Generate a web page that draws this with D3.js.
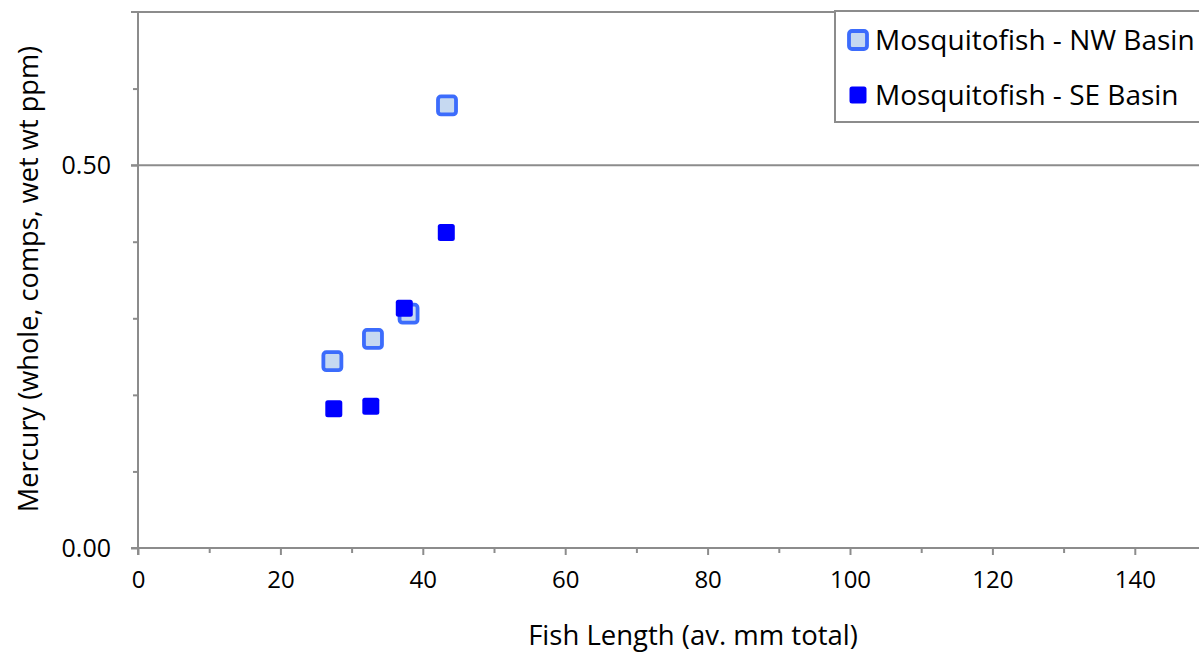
<!DOCTYPE html>
<html>
<head>
<meta charset="utf-8">
<script src="https://cdn.jsdelivr.net/npm/d3@7"></script>
<style>
  html, body { margin: 0; padding: 0; background: #fff; }
  svg { display: block; font-family: "Open Sans", "Noto Sans", sans-serif; }
</style>
</head>
<body>
<div id="chart"></div>
<script>
// NW basin (light squares) and SE basin (solid squares)
const nwLength = [43.4, 38.0, 33.0, 27.3];
const nwMercury = [0.578, 0.306, 0.273, 0.244];
const seLength = [43.3, 37.4, 32.7, 27.5];
const seMercury = [0.412, 0.313, 0.185, 0.182];

const seriesNames = ["Mosquitofish - NW Basin", "Mosquitofish - SE Basin"];
const xTicks = [0, 20, 40, 60, 80, 100, 120, 140];
const xMinorTicks = [10, 30, 50, 70, 90, 110, 130, 150];
const yTicks = [0, 0.5];
const yMinorTicks = [0.1, 0.2, 0.3, 0.4, 0.6];
const xTitle = "Fish Length (av. mm total)";
const yTitle = "Mercury (whole, comps, wet wt ppm)";

const width = 1199;
const height = 654;
const margin = { top: 12, right: -7, bottom: 106, left: 138 };
const axisColor = "#8c8c8c";
const fontFamily = "'Open Sans', 'Noto Sans', sans-serif";

const svg = d3.select("#chart").append("svg")
  .attr("width", width)
  .attr("height", height);

const x = d3.scaleLinear()
  .domain([0, 150])
  .range([margin.left, width - margin.right]);

const y = d3.scaleLinear()
  .domain([0, 0.7])
  .range([height - margin.bottom, margin.top]);

// gridlines (major at 0.5 plus the top edge)
svg.append("g")
  .selectAll("line")
  .data([0.5, 0.7])
  .enter()
  .append("line")
  .attr("x1", margin.left - 7)
  .attr("x2", width)
  .attr("y1", (d) => y(d))
  .attr("y2", (d) => y(d))
  .attr("stroke", axisColor)
  .attr("stroke-width", 2);

// y axis
svg.append("g")
  .attr("transform", `translate(${margin.left},0)`)
  .call(d3.axisLeft(y).tickValues(yTicks).tickSize(7).tickPadding(20).tickFormat(d3.format(".2f")))
  .call((g) => g.select(".domain").attr("stroke", axisColor).attr("stroke-width", 2)
    .attr("d", `M0,${y(0) + 7}V${y(0.7)}`))
  .call((g) => g.selectAll("line").attr("stroke", axisColor).attr("stroke-width", 2))
  .call((g) => g.selectAll("text").attr("fill", "#000").style("font-size", "25px")
    .style("font-family", fontFamily).attr("dy", "0.35em"));

svg.append("g")
  .attr("transform", `translate(${margin.left},0)`)
  .call(d3.axisLeft(y).tickValues(yMinorTicks).tickSize(5).tickFormat(""))
  .call((g) => g.select(".domain").remove())
  .call((g) => g.selectAll("line").attr("stroke", axisColor).attr("stroke-width", 2));

// x axis
svg.append("g")
  .attr("transform", `translate(0,${y(0)})`)
  .call(d3.axisBottom(x).tickValues(xTicks).tickSize(7).tickPadding(16).tickFormat(d3.format("d")))
  .call((g) => g.select(".domain").attr("stroke", axisColor).attr("stroke-width", 2)
    .attr("d", `M${margin.left - 7},0H${width}`))
  .call((g) => g.selectAll("text").attr("fill", "#000").style("font-size", "24px")
    .style("font-family", fontFamily))
  .call((g) => g.selectAll("line").attr("stroke", axisColor).attr("stroke-width", 2));

svg.append("g")
  .attr("transform", `translate(0,${y(0)})`)
  .call(d3.axisBottom(x).tickValues(xMinorTicks).tickSize(5).tickFormat(""))
  .call((g) => g.select(".domain").remove())
  .call((g) => g.selectAll("line").attr("stroke", axisColor).attr("stroke-width", 2));

// axis titles
svg.append("text")
  .attr("x", 693)
  .attr("y", 645)
  .attr("text-anchor", "middle")
  .style("font-size", "27.5px")
  .text(xTitle);

svg.append("text")
  .attr("transform", "translate(38,279) rotate(-90)")
  .attr("text-anchor", "middle")
  .style("font-size", "27.2px")
  .text(yTitle);

// markers
const nwPoints = nwLength.map((d, i) => ({ x: d, y: nwMercury[i] }));
const sePoints = seLength.map((d, i) => ({ x: d, y: seMercury[i] }));

function drawNw(sel, size) {
  sel.attr("width", size).attr("height", size)
    .attr("rx", 3)
    .attr("fill", "#c6d9f1")
    .attr("stroke", "#3c6cfc")
    .attr("stroke-width", 3.8);
}

function drawSe(sel, size) {
  sel.attr("width", size).attr("height", size)
    .attr("rx", 2.5)
    .attr("fill", "#0000ff");
}

svg.append("g")
  .selectAll("rect")
  .data(nwPoints)
  .enter()
  .append("rect")
  .attr("x", (d) => x(d.x) - 9)
  .attr("y", (d) => y(d.y) - 9)
  .call(drawNw, 18);

svg.append("g")
  .selectAll("rect")
  .data(sePoints)
  .enter()
  .append("rect")
  .attr("x", (d) => x(d.x) - 8.5)
  .attr("y", (d) => y(d.y) - 8.5)
  .call(drawSe, 17);

// legend
const legend = svg.append("g");
legend.append("rect")
  .attr("x", 835)
  .attr("y", 11)
  .attr("width", 380)
  .attr("height", 111)
  .attr("fill", "#fff")
  .attr("stroke", "#8c8c8c")
  .attr("stroke-width", 2);

const legendRows = [
  { name: seriesNames[0], cy: 40, size: 18, draw: (s, size) => s.call(drawNw, size) },
  { name: seriesNames[1], cy: 95, size: 17, draw: (s, size) => s.call(drawSe, size) }
];

legendRows.forEach((row) => {
  row.draw(legend.append("rect")
    .attr("x", 858 - row.size / 2)
    .attr("y", row.cy - row.size / 2), row.size);
  legend.append("text")
    .attr("x", 875)
    .attr("y", row.cy)
    .attr("dy", "0.35em")
    .style("font-size", "28px")
    .text(row.name);
});
</script>
</body>
</html>
